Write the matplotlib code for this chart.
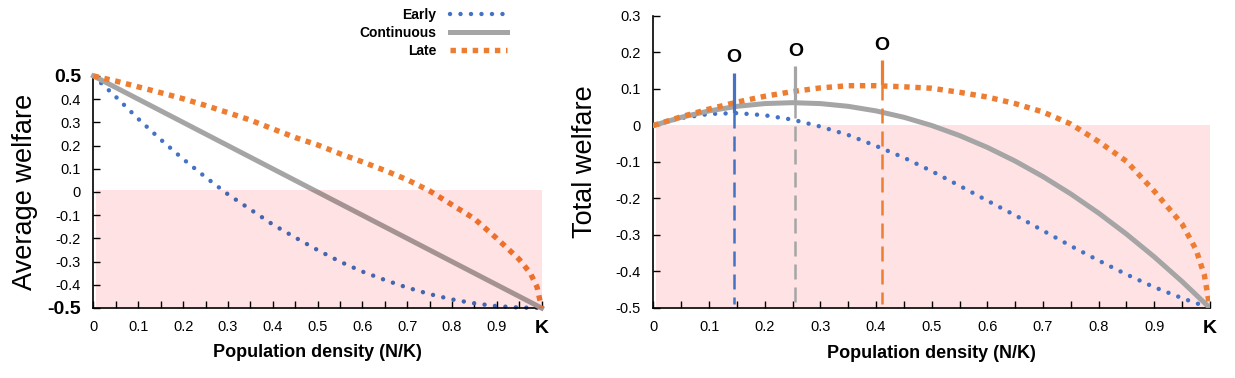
import matplotlib
matplotlib.use("Agg")
import matplotlib.pyplot as plt
from matplotlib.patches import Rectangle
from matplotlib.lines import Line2D

plt.rcParams['font.family'] = ['Liberation Sans', 'DejaVu Sans']

# -----------------------------
# data
# -----------------------------
density = [0.0, 0.05, 0.1, 0.15, 0.2, 0.25, 0.3, 0.35, 0.4, 0.45, 0.5,
           0.55, 0.6, 0.65, 0.7, 0.75, 0.8, 0.85, 0.9, 0.95, 1.0]
density_late = density[:-1] + [0.975, 0.99, 1.0]

early_avg = [0.5, 0.41, 0.315, 0.226, 0.142, 0.064, -0.01, -0.075, -0.14, -0.196, -0.25,
             -0.30, -0.343, -0.379, -0.412, -0.44, -0.463, -0.48, -0.492, -0.498, -0.5]
cont_avg = [0.5, 0.45, 0.4, 0.35, 0.3, 0.25, 0.2, 0.15, 0.1, 0.05, 0.0,
            -0.05, -0.1, -0.15, -0.2, -0.25, -0.3, -0.35, -0.4, -0.45, -0.5]
late_avg = [0.5, 0.478, 0.453, 0.428, 0.402, 0.373, 0.342, 0.31, 0.272, 0.235, 0.203,
            0.165, 0.13, 0.093, 0.053, 0.005, -0.055, -0.115, -0.2, -0.29, -0.35, -0.41, -0.5]

early_tot = [0.0, 0.0205, 0.0315, 0.034, 0.028, 0.016, -0.003, -0.026, -0.056, -0.088, -0.125,
             -0.165, -0.206, -0.246, -0.288, -0.33, -0.37, -0.408, -0.443, -0.473, -0.5]
cont_tot = [0.0, 0.0225, 0.04, 0.0525, 0.06, 0.0625, 0.06, 0.0525, 0.04, 0.0225, 0.0,
            -0.0275, -0.06, -0.0975, -0.14, -0.1875, -0.24, -0.2975, -0.36, -0.4275, -0.5]
late_tot = [0.0, 0.024, 0.045, 0.064, 0.080, 0.093, 0.103, 0.109, 0.109, 0.106, 0.102,
            0.091, 0.078, 0.060, 0.037, 0.004, -0.044, -0.098, -0.18, -0.27, -0.34, -0.41, -0.5]

# optimum markers on the total welfare panel
opt_x = [0.145, 0.255, 0.41]
opt_peak = [0.035, 0.062, 0.11]
opt_top = [0.145, 0.162, 0.18]
opt_bottom = -0.49

names = ["Early", "Continuous", "Late"]
colors = ["#4472C4", "#A5A5A5", "#ED7D31"]
# same colours as seen through the pink area in the left panel
colors_dim = ["#4465AF", "#A59293", "#ED6F2C"]

x_ticks = [0, 0.1, 0.2, 0.3, 0.4, 0.5, 0.6, 0.7, 0.8, 0.9, 1.0]
x_labels = ["0", "0.1", "0.2", "0.3", "0.4", "0.5", "0.6", "0.7", "0.8", "0.9", "K"]
left_yticks = [0.5, 0.4, 0.3, 0.2, 0.1, 0, -0.1, -0.2, -0.3, -0.4, -0.5]
left_ylabels = ["0.5", "0.4", "0.3", "0.2", "0.1", "0", "-0.1", "-0.2", "-0.3", "-0.4", "-0.5"]
right_yticks = [0.3, 0.2, 0.1, 0, -0.1, -0.2, -0.3, -0.4, -0.5]
right_ylabels = ["0.3", "0.2", "0.1", "0", "-0.1", "-0.2", "-0.3", "-0.4", "-0.5"]

PINK = "#FFE2E4"

styles = [
    dict(lw=3.2, linestyle=(0, (0.01, 2.35)), dash_capstyle="round"),
    dict(lw=3.6, linestyle="-"),
    dict(lw=3.9, linestyle=(0, (1.0, 1.05)), dash_capstyle="butt"),
]


def style_axes(ax):
    for s in ["top", "right"]:
        ax.spines[s].set_visible(False)
    ax.spines["left"].set_linewidth(1.2)
    ax.spines["bottom"].set_linewidth(1.2)
    ax.set_xlim(0, 1.0)
    ax.set_xticks(x_ticks)
    ax.set_xticklabels(x_labels)
    ax.set_xticks([0.05 + 0.1 * i for i in range(10)], minor=True)
    ax.tick_params(axis="x", which="both", direction="in", length=5, width=1.0,
                   labelsize=10.5, pad=9)
    ax.tick_params(axis="y", direction="in", length=5, width=1.0, labelsize=10.5, pad=9)
    lbl = ax.get_xticklabels()[-1]
    lbl.set_fontweight("bold")
    lbl.set_fontsize(14)
    ax.set_xlabel("Population density (N/K)", fontsize=13, fontweight="bold")


fig = plt.figure(figsize=(12.35, 3.78), dpi=100)
ax1 = fig.add_axes([0.0757, 0.1852, 0.3628, 0.6138])
ax2 = fig.add_axes([0.5291, 0.1852, 0.4506, 0.7725])

# -----------------------------
# left: average welfare
# -----------------------------
ax1.add_patch(Rectangle((0.005, -0.5), 0.995, 0.507, facecolor=PINK, edgecolor="none", zorder=0))
avg_x = [density, density, density_late]
avg_y = [early_avg, cont_avg, late_avg]
for i in range(3):
    clip_top = Rectangle((-0.1, 0.007), 1.3, 1.0, transform=ax1.transData)
    clip_low = Rectangle((-0.1, -1.0), 1.3, 1.007, transform=ax1.transData)
    ln, = ax1.plot(avg_x[i], avg_y[i], color=colors[i], zorder=2 + i, **styles[i])
    ln.set_clip_path(clip_top)
    ln2, = ax1.plot(avg_x[i], avg_y[i], color=colors_dim[i], zorder=2 + i, **styles[i])
    ln2.set_clip_path(clip_low)

ax1.set_ylim(-0.5, 0.5)
ax1.set_yticks(left_yticks)
ax1.set_yticklabels(left_ylabels)
style_axes(ax1)
for k in (0, -1):
    lbl = ax1.get_yticklabels()[k]
    lbl.set_fontweight("bold")
    lbl.set_fontsize(14)
ax1.set_ylabel("Average welfare", fontsize=19.5)
ax1.yaxis.set_label_coords(-0.124, 0.5)
ax1.xaxis.set_label_coords(0.5, -0.155)

# -----------------------------
# right: total welfare
# -----------------------------
ax2.add_patch(Rectangle((0.005, -0.5), 0.995, 0.5, facecolor=PINK, edgecolor="none", zorder=0))
tot_x = [density, density, density_late]
tot_y = [early_tot, cont_tot, late_tot]
for i in range(3):
    ax2.plot(tot_x[i], tot_y[i], color=colors[i], zorder=2 + i, **styles[i])

for i in range(3):
    ax2.plot([opt_x[i], opt_x[i]], [opt_peak[i], opt_top[i]], color=colors[i],
             lw=2.3, solid_capstyle="butt", zorder=6)
    ax2.plot([opt_x[i], opt_x[i]], [opt_peak[i], opt_bottom], color=colors[i],
             lw=1.8, linestyle=(0, (6, 3.2)), zorder=6)
    ax2.annotate("O", (opt_x[i], opt_top[i]), xytext=(0, 10.5), textcoords="offset points",
                 ha="center", va="center", fontsize=14, fontweight="bold")

ax2.set_ylim(-0.5, 0.3)
ax2.set_yticks(right_yticks)
ax2.set_yticklabels(right_ylabels)
style_axes(ax2)
ax2.set_ylabel("Total welfare", fontsize=19.5)
ax2.yaxis.set_label_coords(-0.0996, 0.5)
ax2.xaxis.set_label_coords(0.5, -0.127)

# legend above the left panel
handles = [Line2D([], [], color=colors[i], **styles[i]) for i in range(3)]
fig.legend(handles, names, loc="upper right", bbox_to_anchor=(507 / 1235, 1 - 8 / 378),
           markerfirst=False, frameon=False, borderpad=0, borderaxespad=0,
           handlelength=4.1, handletextpad=1.0, labelspacing=0.3,
           prop={"weight": "bold", "size": 10})

fig.savefig("out.png", dpi=100)
